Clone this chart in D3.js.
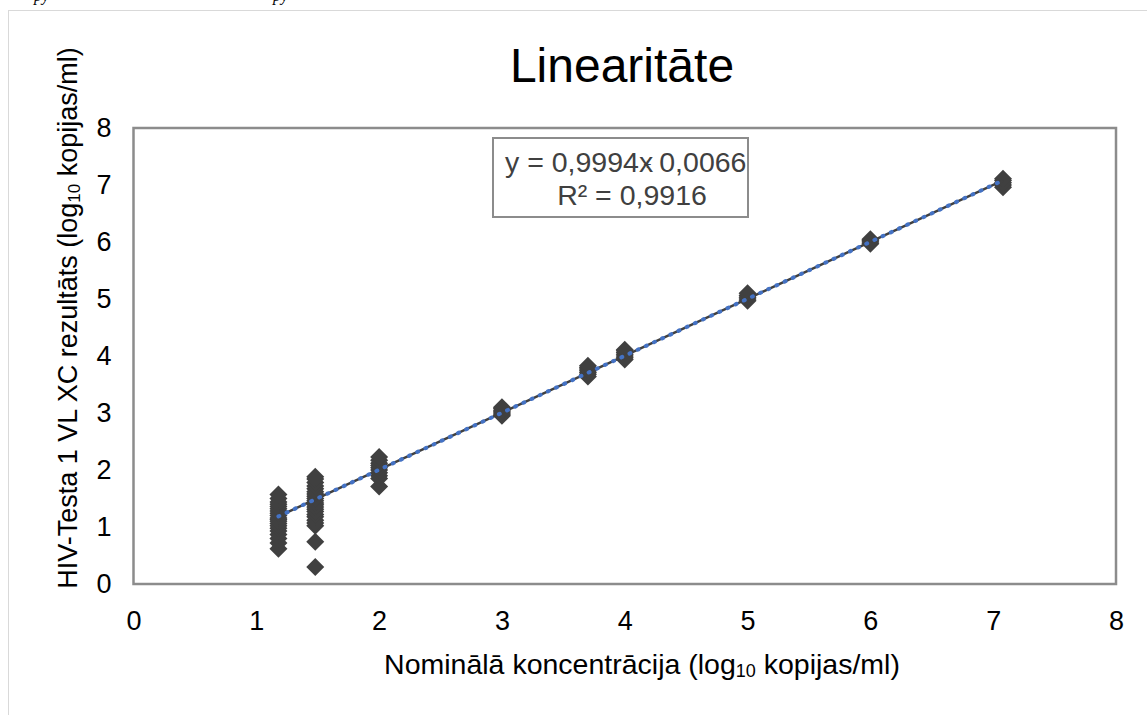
<!DOCTYPE html>
<html>
<head>
<meta charset="utf-8">
<script src="https://cdn.jsdelivr.net/npm/d3@7"></script>
<style>
  body { margin: 0; background: #fff; }
  svg { display: block; font-family: Arial, "Liberation Sans", sans-serif; }
</style>
</head>
<body>
<div id="chart"></div>
<script>
// nominālās koncentrācijas (log10) un rezultāti katram līmenim
const nominal = [1.18, 1.48, 2.0, 3.0, 3.7, 4.0, 5.0, 6.0, 7.08];
const results = [
  [0.62, 0.72, 0.8, 0.87, 0.93, 0.98, 1.02, 1.06, 1.1, 1.13, 1.16, 1.2, 1.24, 1.28, 1.32, 1.36, 1.4, 1.44, 1.5, 1.57],
  [0.3, 0.74, 1.02, 1.07, 1.12, 1.18, 1.22, 1.27, 1.31, 1.35, 1.39, 1.42, 1.46, 1.5, 1.54, 1.58, 1.62, 1.67, 1.72, 1.78, 1.84, 1.88],
  [1.71, 1.85, 1.9, 1.95, 2.0, 2.04, 2.08, 2.12, 2.17, 2.23],
  [2.95, 2.98, 3.0, 3.02, 3.05, 3.08, 3.1],
  [3.64, 3.68, 3.71, 3.74, 3.77, 3.8, 3.83],
  [3.94, 3.97, 4.0, 4.03, 4.06, 4.09, 4.11],
  [4.97, 5.0, 5.03, 5.06, 5.1],
  [5.97, 6.0, 6.02, 6.05],
  [6.96, 7.0, 7.04, 7.08, 7.11]
];
const xTicks = [0, 1, 2, 3, 4, 5, 6, 7, 8];
const yTicks = [0, 1, 2, 3, 4, 5, 6, 7, 8];
const slope = 0.9994, intercept = 0.0066;

const width = 1147, height = 715;
const plot = { left: 133.5, top: 128, right: 1116, bottom: 584 };

const svg = d3.select('#chart').append('svg')
  .attr('width', width).attr('height', height);

// ārējais rāmis
svg.append('rect')
  .attr('x', 8.5).attr('y', 10.5)
  .attr('width', width).attr('height', height)
  .attr('fill', 'none').attr('stroke', '#d9d9d9').attr('stroke-width', 1);

// apgriezts teksts augšā
svg.append('text').attr('x', 34).attr('y', 1)
  .style('font-family', '"Liberation Serif", serif').style('font-style', 'italic')
  .style('font-size', '16px').text('py');
svg.append('text').attr('x', 273).attr('y', 1)
  .style('font-family', '"Liberation Serif", serif').style('font-style', 'italic')
  .style('font-size', '16px').text('py');

const x = d3.scaleLinear().domain([0, 8]).range([plot.left, plot.right]);
const y = d3.scaleLinear().domain([0, 8]).range([plot.bottom, plot.top]);

// asis
const xAxis = svg.append('g')
  .attr('transform', `translate(0,${plot.bottom})`)
  .call(d3.axisBottom(x).tickValues(xTicks).tickSize(0).tickPadding(27).tickFormat(d3.format('d')));
const yAxis = svg.append('g')
  .attr('transform', `translate(${plot.left},0)`)
  .call(d3.axisLeft(y).tickValues(yTicks).tickSize(0).tickPadding(22).tickFormat(d3.format('d')));
[xAxis, yAxis].forEach(g => {
  g.select('.domain').remove();
  g.selectAll('text').style('font-size', '27px').attr('fill', '#000')
    .style('font-family', 'Arial, "Liberation Sans", sans-serif');
});

// punkti
const points = [];
nominal.forEach((nx, i) => results[i].forEach(v => points.push({ x: nx, y: v })));
const h = 9;
svg.append('g').selectAll('path')
  .data(points)
  .join('path')
  .attr('transform', d => `translate(${x(d.x)},${y(d.y)})`)
  .attr('d', `M0,${-h}L${h},0L0,${h}L${-h},0Z`)
  .attr('fill', '#404040');

// tendences līnija
const xMin = d3.min(nominal), xMax = d3.max(nominal);
const trend = [xMin, xMax].map(v => [x(v), y(slope * v + intercept)]);
const line = d3.line();
svg.append('path').attr('d', line(trend))
  .attr('stroke', '#404040').attr('stroke-width', 2.5).attr('fill', 'none');
svg.append('path').attr('d', line(trend))
  .attr('stroke', '#4472c4').attr('stroke-width', 4)
  .attr('stroke-dasharray', '1,8').attr('stroke-linecap', 'round')
  .attr('fill', 'none');

// zīmēšanas laukuma rāmis
svg.append('rect')
  .attr('x', plot.left).attr('y', plot.top)
  .attr('width', plot.right - plot.left).attr('height', plot.bottom - plot.top)
  .attr('fill', 'none').attr('stroke', '#8c8c8c').attr('stroke-width', 2.5);

// vienādojuma lodziņš
svg.append('rect')
  .attr('x', 493).attr('y', 138).attr('width', 255).attr('height', 79)
  .attr('fill', '#fff').attr('stroke', '#8c8c8c').attr('stroke-width', 2);
const eq = svg.append('text').attr('x', 505).attr('y', 172)
  .style('font-size', '28.5px').attr('fill', '#404040');
eq.append('tspan').text('y = 0,9994x');
eq.append('tspan').attr('dx', -10).style('font-size', '14px').attr('dy', -3).text('+');
eq.append('tspan').attr('dy', 3).text(' 0,0066');
svg.append('text').attr('x', 632).attr('y', 205).attr('text-anchor', 'middle')
  .style('font-size', '28.5px').attr('fill', '#404040').text('R² = 0,9916');

// virsraksts
svg.append('text').attr('x', 622).attr('y', 82).attr('text-anchor', 'middle')
  .style('font-size', '48px').attr('fill', '#000').text('Linearitāte');

// ass nosaukumi
const xt = svg.append('text').attr('x', 642).attr('y', 674).attr('text-anchor', 'middle')
  .style('font-size', '28.5px').attr('fill', '#000');
xt.append('tspan').text('Nominālā koncentrācija (log');
xt.append('tspan').style('font-size', '18px').attr('dy', 3).text('10');
xt.append('tspan').attr('dy', -3).text(' kopijas/ml)');

const yt = svg.append('text')
  .attr('transform', 'translate(77,318) rotate(-90)')
  .attr('text-anchor', 'middle')
  .style('font-size', '27px').attr('fill', '#000');
yt.append('tspan').text('HIV-Testa 1 VL XC rezultāts (log');
yt.append('tspan').style('font-size', '17px').attr('dy', 3).text('10');
yt.append('tspan').attr('dy', -3).text(' kopijas/ml)');
</script>
</body>
</html>
